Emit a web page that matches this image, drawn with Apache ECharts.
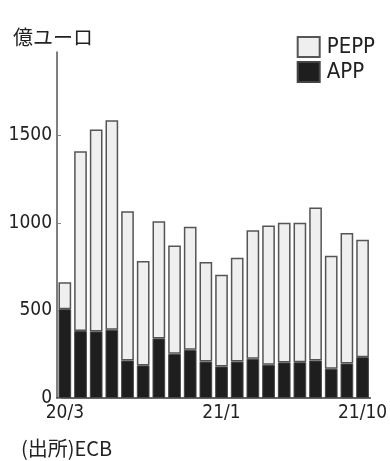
<!DOCTYPE html>
<html>
<head>
    <meta charset="UTF-8">
    <script src="https://cdn.jsdelivr.net/npm/echarts@6/dist/echarts.min.js"></script>
    <style>
        html, body { margin: 0; padding: 0; background: #fff; }
    </style>
</head>
<body>
<div id="chart" style="width: 390px;height:461px;"></div>
<script type="text/javascript">
    // 月 (20/3 〜 21/10)
    var months = ['20/3','20/4','20/5','20/6','20/7','20/8','20/9','20/10','20/11','20/12',
                  '21/1','21/2','21/3','21/4','21/5','21/6','21/7','21/8','21/9','21/10'];
    var shownLabels = ['20/3', '21/1', '21/10'];
    // 合計 (PEPP + APP) と APP, 単位: 億ユーロ
    var totals = [661, 1408, 1532, 1586, 1066, 782, 1009, 871, 978, 776,
                  704, 801, 957, 984, 1001, 1001, 1087, 812, 942, 904];
    var app = [507, 382, 380, 390, 214, 186, 340, 252, 275, 208,
               180, 208, 224, 190, 203, 204, 214, 167, 197, 233];
    var pepp = [];
    for (var i = 0; i < totals.length; i++) {
        pepp.push(totals[i] - app[i]);
    }
    var yTicks = [0, 500, 1000, 1500];

    var narrow = "'DejaVu Sans Condensed', sans-serif";
    var jp = "'Noto Sans CJK JP', sans-serif";

    var myChart = echarts.init(document.getElementById('chart'));
    var option = {
        animation: false,
        backgroundColor: '#fff',
        title: [{
            text: '億ユーロ',
            left: 8,
            top: 22,
            textStyle: { fontFamily: jp, fontSize: 20, fontWeight: 'normal', color: '#222' }
        }, {
            text: '(出所)ECB',
            left: 16,
            top: 433,
            textStyle: { fontFamily: jp, fontSize: 20, fontWeight: 'normal', color: '#222' }
        }],
        legend: {
            right: 10,
            top: 31,
            orient: 'vertical',
            icon: 'rect',
            itemWidth: 22,
            itemHeight: 20,
            itemGap: 3,
            textStyle: { fontFamily: narrow, fontSize: 22, color: '#222', padding: [0, 0, 0, 2] },
            data: ['PEPP', 'APP']
        },
        grid: {
            left: 57,
            right: 12,
            top: 52,
            bottom: 63
        },
        xAxis: {
            type: 'category',
            data: months,
            axisLine: { lineStyle: { color: '#333', width: 1.5 } },
            axisTick: { show: false },
            axisLabel: {
                interval: 0,
                margin: 6,
                fontFamily: narrow,
                fontSize: 19,
                color: '#222',
                formatter: function (v) { return shownLabels.indexOf(v) >= 0 ? v : ''; }
            }
        },
        yAxis: {
            type: 'value',
            min: 0,
            max: 1975,
            interval: 500,
            splitLine: { show: false },
            axisLine: { show: true, lineStyle: { color: '#555', width: 1.5 } },
            axisTick: { show: true, inside: true, length: 4, lineStyle: { color: '#888' } },
            axisLabel: {
                margin: 5,
                fontFamily: narrow,
                fontSize: 19,
                color: '#222',
                showMaxLabel: false,
                formatter: function (v) { return yTicks.indexOf(v) >= 0 ? String(v) : ''; }
            }
        },
        series: [{
            name: 'APP',
            type: 'bar',
            stack: 'total',
            barCategoryGap: '19%',
            itemStyle: { color: '#1e1e1e', borderColor: '#444', borderWidth: 1 },
            data: app
        }, {
            name: 'PEPP',
            type: 'bar',
            stack: 'total',
            barCategoryGap: '19%',
            itemStyle: { color: '#efefef', borderColor: '#555', borderWidth: 1.5 },
            data: pepp
        }]
    };
    myChart.setOption(option);
</script>
</body>
</html>
